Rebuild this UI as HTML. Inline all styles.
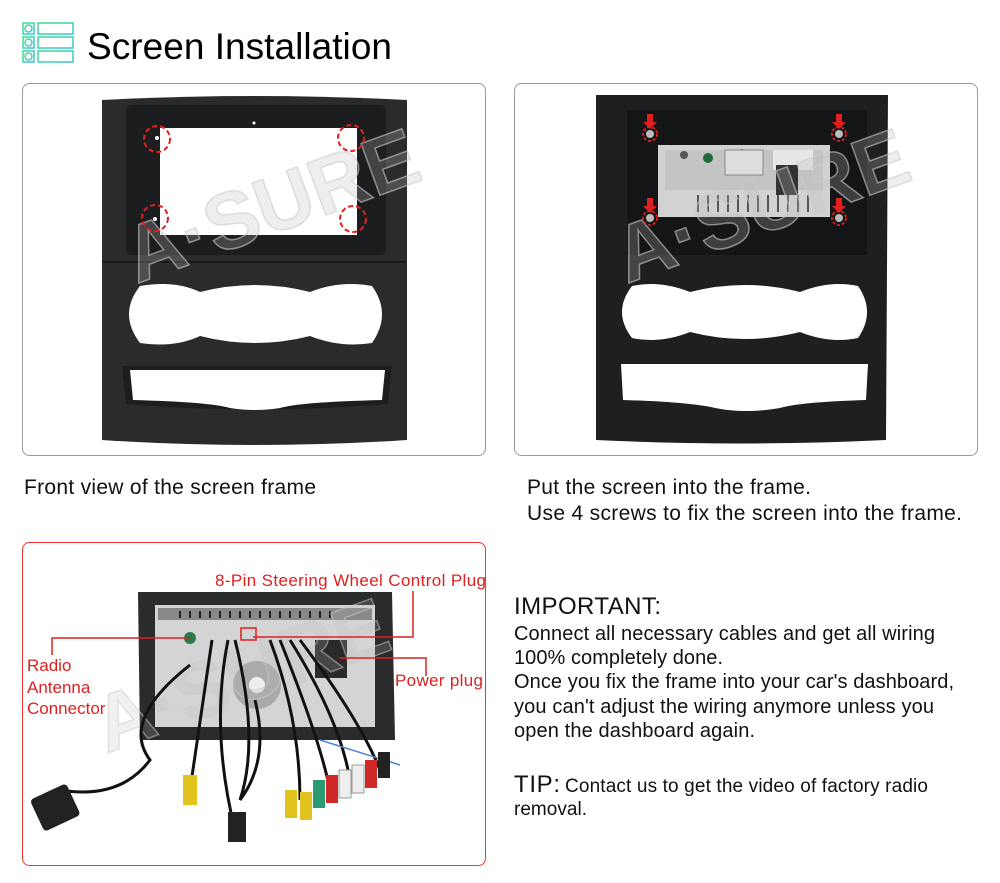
<!DOCTYPE html>
<html><head><meta charset="utf-8"><style>
html,body{margin:0;padding:0;background:#fff;}
svg{display:block;font-family:"Liberation Sans",Arial,sans-serif;}
</style></head><body>
<svg width="1000" height="883" viewBox="0 0 1000 883" xmlns="http://www.w3.org/2000/svg">
<defs>
<linearGradient id="ic" x1="0" y1="0" x2="1" y2="1"><stop offset="0" stop-color="#3fe08a"/><stop offset="1" stop-color="#3cc4d8"/></linearGradient>
</defs>
<g fill="none" stroke="url(#ic)" stroke-width="1.5">
<rect x="23" y="23" width="11" height="11"/><circle cx="28.5" cy="28.5" r="3.5"/><rect x="38" y="23" width="35" height="11"/>
<rect x="23" y="37" width="11" height="11"/><circle cx="28.5" cy="42.5" r="3.5"/><rect x="38" y="37" width="35" height="11"/>
<rect x="23" y="51" width="11" height="11"/><circle cx="28.5" cy="56.5" r="3.5"/><rect x="38" y="51" width="35" height="11"/>
</g>
<text x="87" y="59" font-size="37" fill="#000" textLength="305">Screen Installation</text>

<!-- panel 1 -->
<rect x="22.5" y="83.5" width="463" height="372" rx="7" fill="#fff" stroke="#999"/>
<path d="M102 100 Q255 92 407 100 L407 440 Q255 450 102 440 Z" fill="#2a2b2d"/>
<rect x="126" y="105" width="260" height="150" rx="6" fill="#1c1d1f"/>
<rect x="160" y="128" width="197" height="107" fill="#fff"/>
<line x1="102" y1="262" x2="407" y2="262" stroke="#1a1a1a" stroke-width="2"/>
<path d="M140 286 Q175 280 200 292 Q255 278 310 292 Q340 280 372 286 Q392 314 372 343 Q340 348 310 336 Q255 350 200 336 Q175 348 140 343 Q118 314 140 286 Z" fill="#fff"/>
<path d="M122 366 L392 366 L388 404 Q255 415 126 404 Z" fill="#1c1d1f"/>
<path d="M130 370 L385 370 L382 400 Q300 402 280 408 Q255 412 230 408 Q210 402 133 400 Z" fill="#fff"/>
<text x="115" y="240" font-size="80" font-weight="bold" fill="#bbb" fill-opacity="0.25" stroke="#ccc" stroke-width="1.5" stroke-opacity="0.6" transform="rotate(-20 250 200)">A·SURE</text>
<g fill="none" stroke="#e02020" stroke-width="2" stroke-dasharray="5,3">
<circle cx="157" cy="139" r="13"/><circle cx="351" cy="138" r="13"/><circle cx="155" cy="218" r="13"/><circle cx="353" cy="219" r="13"/>
</g>
<g fill="#fff"><circle cx="157" cy="138" r="2"/><circle cx="351" cy="137" r="2"/><circle cx="155" cy="219" r="2"/><circle cx="353" cy="220" r="2"/><circle cx="254" cy="123" r="1.5"/></g>

<!-- panel 2 -->
<rect x="514.5" y="83.5" width="463" height="372" rx="7" fill="#fff" stroke="#999"/>
<path d="M596 95 L888 95 L886 440 Q740 447 596 440 Z" fill="#1e1f21"/>
<rect x="627" y="110" width="240" height="145" fill="#141516"/>
<rect x="658" y="145" width="172" height="72" fill="#d2d2d2"/>
<rect x="665" y="150" width="158" height="40" fill="#c4c4c4"/>
<g fill="#555"><circle cx="684" cy="155" r="4"/><circle cx="708" cy="158" r="5" fill="#1d6b3b"/><circle cx="742" cy="153" r="4"/></g>
<rect x="725" y="150" width="38" height="25" fill="#ddd" stroke="#888"/>
<rect x="773" y="150" width="40" height="20" fill="#e6e6e6"/>
<rect x="776" y="165" width="22" height="30" fill="#333"/>
<g stroke="#555" stroke-width="2">
<line x1="698" y1="195" x2="698" y2="212"/><line x1="708" y1="195" x2="708" y2="212"/><line x1="718" y1="195" x2="718" y2="212"/><line x1="728" y1="195" x2="728" y2="212"/><line x1="738" y1="195" x2="738" y2="212"/><line x1="748" y1="195" x2="748" y2="212"/><line x1="758" y1="195" x2="758" y2="212"/><line x1="768" y1="195" x2="768" y2="212"/><line x1="778" y1="195" x2="778" y2="212"/><line x1="788" y1="195" x2="788" y2="212"/><line x1="798" y1="195" x2="798" y2="212"/><line x1="808" y1="195" x2="808" y2="212"/>
</g>
<path d="M632 286 Q660 280 690 292 Q745 278 800 292 Q830 280 858 286 Q876 312 858 338 Q830 344 800 332 Q745 346 690 332 Q660 344 632 338 Q612 312 632 286 Z" fill="#fff"/>
<path d="M621 364 L868 364 L866 400 Q800 402 780 408 Q745 414 715 408 Q690 402 623 400 Z" fill="#fff"/>
<text x="605" y="240" font-size="80" font-weight="bold" fill="#bbb" fill-opacity="0.25" stroke="#ccc" stroke-width="1.5" stroke-opacity="0.6" transform="rotate(-20 740 200)">A·SURE</text>
<g fill="none" stroke="#e02020" stroke-width="1.8" stroke-dasharray="3,2">
<circle cx="650" cy="134" r="7"/><circle cx="839" cy="134" r="7"/><circle cx="650" cy="218" r="7"/><circle cx="839" cy="218" r="7"/>
</g>
<g fill="#bbb"><circle cx="650" cy="134" r="4"/><circle cx="839" cy="134" r="4"/><circle cx="650" cy="218" r="4"/><circle cx="839" cy="218" r="4"/></g>
<g fill="#e02020">
<path d="M647 114h6v8h4l-7 7-7-7h4z"/><path d="M836 114h6v8h4l-7 7-7-7h4z"/><path d="M647 198h6v8h4l-7 7-7-7h4z"/><path d="M836 198h6v8h4l-7 7-7-7h4z"/>
</g>

<!-- captions -->
<text x="24" y="494" font-size="21" fill="#111" textLength="292">Front view of the screen frame</text>
<text x="527" y="494" font-size="21" fill="#111" textLength="284">Put the screen into the frame.</text>
<text x="527" y="520" font-size="21" fill="#111" textLength="435">Use 4 screws to fix the screen into the frame.</text>

<!-- panel 3 -->
<rect x="22.5" y="542.5" width="463" height="323" rx="7" fill="#fff" stroke="#e33"/>
<path d="M138 592 L392 592 L395 740 L140 740 Z" fill="#2a2b2d"/>
<rect x="155" y="605" width="220" height="122" fill="#d4d4d4"/>
<rect x="158" y="608" width="214" height="12" fill="#888"/>
<g stroke="#222" stroke-width="2">
<line x1="180" y1="611" x2="180" y2="618"/><line x1="190" y1="611" x2="190" y2="618"/><line x1="200" y1="611" x2="200" y2="618"/><line x1="210" y1="611" x2="210" y2="618"/><line x1="220" y1="611" x2="220" y2="618"/><line x1="230" y1="611" x2="230" y2="618"/><line x1="240" y1="611" x2="240" y2="618"/><line x1="250" y1="611" x2="250" y2="618"/><line x1="260" y1="611" x2="260" y2="618"/><line x1="270" y1="611" x2="270" y2="618"/><line x1="280" y1="611" x2="280" y2="618"/><line x1="290" y1="611" x2="290" y2="618"/><line x1="300" y1="611" x2="300" y2="618"/><line x1="310" y1="611" x2="310" y2="618"/><line x1="320" y1="611" x2="320" y2="618"/><line x1="330" y1="611" x2="330" y2="618"/>
</g>
<circle cx="257" cy="685" r="24" fill="#aaa"/><circle cx="257" cy="685" r="8" fill="#eee"/>
<circle cx="190" cy="638" r="6" fill="#2c7a4a"/>
<rect x="315" y="640" width="32" height="38" fill="#2a2a2a"/>
<text x="90" y="700" font-size="80" font-weight="bold" fill="#bbb" fill-opacity="0.2" stroke="#ccc" stroke-width="1.5" stroke-opacity="0.5" transform="rotate(-20 250 680)">A·SURE</text>
<g fill="none" stroke="#111" stroke-width="3">
<path d="M190 665 Q120 720 150 760 Q120 800 60 790"/>
<path d="M212 640 Q200 720 190 790"/>
<path d="M228 640 Q210 730 235 830"/>
<path d="M235 640 Q260 740 240 800 Q270 760 255 700"/>
<path d="M270 640 Q300 720 300 800"/>
<path d="M280 640 Q320 740 330 790"/>
<path d="M290 640 Q340 720 350 780"/>
<path d="M300 640 Q360 720 380 770"/>
</g>
<path d="M320 740 L400 765" stroke="#4a86d0" stroke-width="1.5"/>
<rect x="35" y="790" width="40" height="35" rx="4" fill="#222" transform="rotate(-25 55 807)"/>
<rect x="183" y="775" width="14" height="30" fill="#e2c21c"/>
<rect x="285" y="790" width="12" height="28" fill="#e2c21c"/>
<rect x="300" y="792" width="12" height="28" fill="#e2c21c"/>
<rect x="313" y="780" width="12" height="28" fill="#2a9a70"/>
<rect x="326" y="775" width="12" height="28" fill="#d02828"/>
<rect x="339" y="770" width="12" height="28" fill="#eee" stroke="#999"/>
<rect x="352" y="765" width="12" height="28" fill="#eee" stroke="#999"/>
<rect x="365" y="760" width="12" height="28" fill="#d02828"/>
<rect x="378" y="752" width="12" height="26" fill="#222"/>
<rect x="228" y="812" width="18" height="30" fill="#222"/>
<g fill="none" stroke="#e02020" stroke-width="1.5">
<polyline points="52,655 52,638 190,638"/>
<polyline points="413,591 413,637 253,637"/>
<rect x="241" y="628" width="15" height="12"/>
<polyline points="340,658 426,658 426,676"/>
</g>
<g fill="#e02020" font-size="17">
<text x="215" y="586" textLength="271">8-Pin Steering Wheel Control Plug</text>
<text x="27" y="671">Radio</text>
<text x="27" y="693">Antenna</text>
<text x="27" y="714">Connector</text>
<text x="395" y="686" textLength="88">Power plug</text>
</g>

<g fill="#111">
<text x="514" y="614" font-size="24" textLength="147">IMPORTANT:</text>
<text x="514" y="640" font-size="20" textLength="421">Connect all necessary cables and get all wiring</text>
<text x="514" y="664" font-size="20" textLength="209">100% completely done.</text>
<text x="514" y="688" font-size="20" textLength="440">Once you fix the frame into your car's dashboard,</text>
<text x="514" y="713" font-size="20" textLength="420">you can't adjust the wiring anymore unless you</text>
<text x="514" y="737" font-size="20" textLength="241">open the dashboard again.</text>
<text x="514" y="792" font-size="24" textLength="46">TIP:</text>
<text x="565" y="792" font-size="19" textLength="363">Contact us to get the video of factory radio</text>
<text x="514" y="815" font-size="19" textLength="73">removal.</text>
</g>
</svg>
</body></html>
